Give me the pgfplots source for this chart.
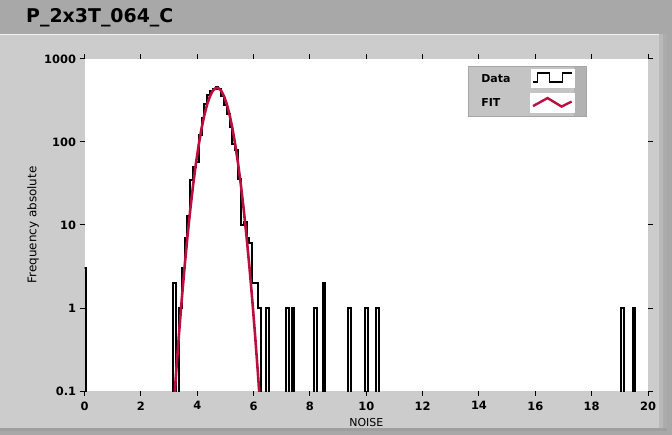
\documentclass[border=0pt]{standalone}
\usepackage{pgfplots}
\pgfplotsset{compat=1.18}
\usepackage{fontspec}
\setmainfont{DejaVu Sans}
\definecolor{fitred}{RGB}{186,16,64}
\definecolor{bandgrey}{RGB}{168,168,168}
\definecolor{panelgrey}{RGB}{204,204,204}
\definecolor{legendgrey}{RGB}{196,196,196}

% histogram: left bin edge, count (0.001 = empty, below the axis)
\pgfplotstableread{
x y
-0.05 3
0.05 0.001
3.15 2
3.25 0.001
3.35 1
3.45 3
3.55 7
3.65 13
3.75 35
3.85 50
3.95 58
4.05 121
4.15 193
4.25 290
4.35 365
4.45 415
4.55 440
4.65 456
4.75 440
4.85 360
4.95 280
5.05 215
5.15 150
5.25 95
5.35 80
5.45 36
5.55 10
5.65 11
5.75 7
5.85 6
5.95 2
6.05 2
6.15 1
6.25 0.001
6.45 1
6.55 0.001
7.15 1
7.25 0.001
7.35 1
7.45 0.001
8.15 1
8.25 0.001
8.45 2
8.55 0.001
9.35 1
9.45 0.001
9.95 1
10.05 0.001
10.35 1
10.45 0.001
19.05 1
19.15 0.001
19.45 1
19.55 0.001
20.5 0.001
}\histdata

% gaussian fit, sampled
\pgfplotstableread{
x y
3.05 0.0164
3.15 0.0545
3.25 0.168
3.35 0.481
3.45 1.28
3.55 3.15
3.65 7.18
3.75 15.2
3.85 29.9
3.95 54.5
4.05 92.2
4.15 144.6
4.25 210.5
4.35 284.1
4.45 355.9
4.55 413.5
4.65 445.8
4.70 450
4.75 445.8
4.85 413.5
4.95 355.9
5.05 284.1
5.15 210.5
5.25 144.6
5.35 92.2
5.45 54.5
5.55 29.9
5.65 15.2
5.75 7.18
5.85 3.15
5.95 1.28
6.05 0.481
6.15 0.168
6.25 0.0545
6.35 0.0164
}\fitdata

\begin{document}
\begin{tikzpicture}
\useasboundingbox (0,0) rectangle (672bp,435bp);
% frame
\fill[bandgrey] (0,0) rectangle (672bp,435bp);
\fill[panelgrey] (0,7bp) rectangle (659bp,401bp);
\fill[gray!55] (659bp,7bp) rectangle (663bp,401bp);
\fill[gray!65] (663bp,7bp) rectangle (667bp,401bp);
\fill[gray!75] (0,4bp) rectangle (667bp,7bp);
\draw[white!90!gray, line width=1bp] (0,400.5bp) -- (659bp,400.5bp);
\node[anchor=base west, font=\bfseries\fontsize{19}{22}\selectfont, inner sep=0pt] at (26bp,412bp) {P\_2x3T\_064\_C};

\begin{axis}[
  at={(84.6bp,44bp)}, anchor=south west,
  scale only axis, width=563.4bp, height=332bp,
  ymode=log, xmin=0, xmax=20, ymin=0.1, ymax=1000,
  xtick={0,2,...,20},
  ytick={0.1,1,10,100,1000}, yticklabels={0.1,1,10,100,1000},
  yminorticks=false,
  tick align=outside, major tick length=5bp,
  tick style={black, line width=1bp},
  axis line style={draw=none},
  axis background/.style={fill=white},
  /pgf/number format/assume math mode=true,
  ticklabel style={font=\bfseries\fontsize{11.5}{13}\selectfont},
  xticklabel style={yshift=-2bp},
  xlabel={NOISE}, ylabel={Frequency absolute},
  every axis x label/.style={at={(axis description cs:0.5,-0.0934)}, anchor=center, font=\fontsize{11}{13}\selectfont},
  every axis y label/.style={at={(axis description cs:-0.0916,0.5)}, anchor=center, rotate=90, font=\fontsize{12}{14}\selectfont},
  legend plot pos=right,
  legend cell align=left,
  legend style={at={(axis description cs:0.6805,0.979)}, anchor=north west,
    fill=legendgrey, draw=gray!70, line width=0.6bp,
    font=\bfseries\fontsize{11}{13}\selectfont,
    inner xsep=11bp, inner ysep=3bp, row sep=5bp,
    path picture={\fill[gray!60] ([xshift=-12bp]path picture bounding box.north east) rectangle (path picture bounding box.south east);}},
]
\addplot[const plot, black, line width=2bp,
  legend image code/.code={
    \fill[white] (0bp,-8.5bp) rectangle (42bp,8.5bp);
    \draw[black, line width=1.8bp] (1.5bp,-3.5bp) -- (6bp,-3.5bp) -- (6bp,5.5bp) -- (18bp,5.5bp) -- (18bp,-3.5bp) -- (31bp,-3.5bp) -- (31bp,5.5bp) -- (40bp,5.5bp);
  }] table {\histdata};
\addlegendentry{\makebox[47bp][l]{Data}}
\addplot[fitred, line width=2.6bp,
  legend image code/.code={
    \fill[white] (0bp,-8.5bp) rectangle (42bp,8.5bp);
    \draw[fitred, line width=2.4bp] (1.5bp,-3bp) -- (16bp,5bp) -- (30bp,-3.5bp) -- (40bp,1.5bp);
  }] table {\fitdata};
\addlegendentry{\makebox[47bp][l]{FIT}}
\end{axis}
\end{tikzpicture}
\end{document}
